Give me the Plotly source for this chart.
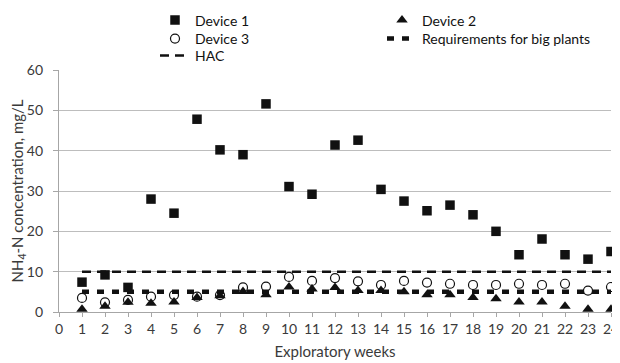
import plotly.graph_objects as go

weeks = list(range(1, 25))
device1 = [7.4, 9.2, 6.1, 28.0, 24.5, 47.8, 40.2, 39.0, 51.6, 31.1, 29.2, 41.4,
           42.6, 30.4, 27.5, 25.1, 26.5, 24.1, 20.0, 14.2, 18.1, 14.2, 13.1, 15.0]
device2 = [0.7, 1.4, 2.4, 2.2, 2.5, 3.6, 4.0, 5.1, 4.3, 6.2, 5.7, 6.1,
           5.3, 5.3, 5.0, 4.3, 4.3, 3.6, 3.3, 2.5, 2.5, 1.4, 0.7, 0.7]
device3 = [3.5, 2.4, 3.0, 3.8, 4.2, 3.8, 4.2, 6.1, 6.3, 8.7, 7.7, 8.4,
           7.6, 6.7, 7.7, 7.3, 7.0, 6.7, 6.7, 7.0, 6.7, 7.0, 5.3, 6.2]
requirement = [5] * 24
hac = [10] * 24
x_ticks = list(range(0, 25))
y_ticks = list(range(0, 61, 10))

FONT = "Lato"
TXT = "#3a3a3a"

# the page body adds an 8px margin; the figure is sized to fill the rest
OFF = 8
W, H = 620 - OFF, 363 - OFF
ML, MR, MT, MB = 51, 9, 2, 51          # figure margins (px)
PAPER_W, PAPER_H = W - ML - MR, H - MT - MB
PLOT_TOP = 70 - OFF                    # top of the data area (figure px)
PAPER_BOTTOM = H - MB


def px_x(p):
    return (p - OFF - ML) / PAPER_W


def px_y(p):
    return (PAPER_BOTTOM - (p - OFF)) / PAPER_H


fig = go.Figure()
fig.add_trace(go.Scatter(x=weeks, y=device1, mode="markers", name="Device 1",
                         marker=dict(symbol="square", size=9.5, color="#111111"),
                         cliponaxis=False, legend="legend"))
fig.add_trace(go.Scatter(x=weeks, y=device2, mode="markers", name="Device 2",
                         marker=dict(symbol="triangle-up", size=10, color="#111111"),
                         cliponaxis=False, legend="legend"))
fig.add_trace(go.Scatter(x=weeks, y=device3, mode="markers", name="Device 3",
                         marker=dict(symbol="circle-open", size=9, color="#111111",
                                     line=dict(width=1.2)),
                         cliponaxis=False, legend="legend2"))
fig.add_trace(go.Scatter(x=weeks, y=requirement, mode="lines",
                         name="Requirements for big plants",
                         line=dict(color="#111111", width=4.5, dash="7px,8px"),
                         legend="legend2"))
fig.add_trace(go.Scatter(x=weeks, y=hac, mode="lines", name="HAC",
                         line=dict(color="#111111", width=2.5, dash="9px,6px"),
                         legend="legend3"))

# legend frame: an empty, mirrored axis pair whose lines form the box
BOX_L, BOX_R, BOX_T, BOX_B = 143, 598, 14, 65
frame_axis = dict(showline=True, mirror=True, linecolor="#111111", linewidth=1.2,
                  showgrid=False, zeroline=False, showticklabels=False,
                  ticks="", range=[0, 1], fixedrange=True)


def legend_row(page_y):
    return dict(orientation="h", entrywidth=182, entrywidthmode="pixels",
                x=px_x(155), xanchor="left", y=px_y(page_y), yanchor="middle",
                borderwidth=0, bgcolor="rgba(0,0,0,0)",
                font=dict(family=FONT, size=14, color="#111111"),
                tracegroupgap=0)


fig.update_layout(
    width=W, height=H,
    margin=dict(l=ML, r=MR, t=MT, b=MB, autoexpand=False),
    paper_bgcolor="white", plot_bgcolor="white",
    font=dict(family=FONT, size=14, color=TXT),
    showlegend=True,
    legend=legend_row(20.5),
    legend2=legend_row(39),
    legend3=legend_row(56),
    xaxis=dict(domain=[0, 1], range=[0, 24], tickmode="array", tickvals=x_ticks,
               ticktext=[str(v) for v in x_ticks],
               showgrid=False, zeroline=False, showline=True,
               linecolor="#a6a6a6", linewidth=1,
               ticks="outside", ticklen=4, tickcolor="#a6a6a6",
               tickfont=dict(size=14, color=TXT),
               title=dict(text="Exploratory weeks", font=dict(size=15, color=TXT),
                          standoff=10)),
    yaxis=dict(domain=[0, (PAPER_BOTTOM - PLOT_TOP) / PAPER_H],
               range=[0, 60], tickmode="array", tickvals=y_ticks,
               ticktext=[str(v) + "  " for v in y_ticks],
               showgrid=True, gridcolor="#bdbdbd",
               gridwidth=1, zeroline=False, showline=True,
               linecolor="#a6a6a6", linewidth=1,
               ticks="outside", ticklen=5, tickcolor="#a6a6a6",
               tickfont=dict(size=14, color=TXT),
               title=dict(text="NH<sub>4</sub>-N concentration, mg/L",
                          font=dict(size=15, color=TXT), standoff=1)),
    xaxis2=dict(domain=[px_x(BOX_L), px_x(BOX_R)], anchor="y2", **frame_axis),
    yaxis2=dict(domain=[px_y(BOX_B), px_y(BOX_T)], anchor="x2", **frame_axis),
)

fig.write_html("out.html")
